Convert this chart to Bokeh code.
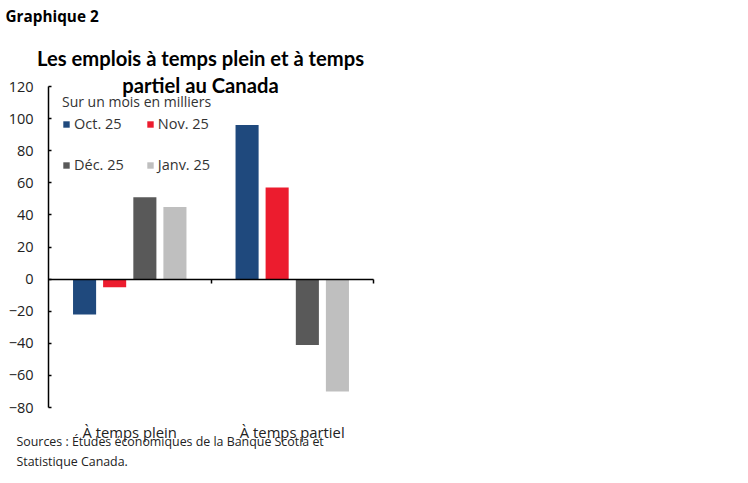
from bokeh.plotting import figure
from bokeh.models import (Range1d, FixedTicker, LinearAxis, Label, Legend, LegendItem,
                          ColumnDataSource)
from bokeh.transform import dodge
from bokeh.embed import file_html
from bokeh.resources import INLINE

categories = ["À temps plein", "À temps partiel"]
series_names = ["Oct. 25", "Nov. 25", "Déc. 25", "Janv. 25"]
oct25 = [-22, 96]
nov25 = [-5, 57]
dec25 = [51, -41]
janv25 = [45, -70]
colors = ["#1f497d", "#ec1c2e", "#595959", "#bfbfbf"]
y_ticks = [-80, -60, -40, -20, 0, 20, 40, 60, 80, 100, 120]

FONT = "Open Sans"
TFONT = "Lato"

# canvas / layout (pixels)
W, H = 740, 475
PX_LEFT, PX_RIGHT = 48, 373      # x of category span edges
PY_TOP, PY_BOT = 86, 407         # y of 120 and -80
YMIN, YMAX = y_ticks[0], y_ticks[-1]
NCAT = len(categories)

xs = (PX_RIGHT - PX_LEFT) / NCAT
ys = (PY_BOT - PY_TOP) / (YMAX - YMIN)
x0 = -PX_LEFT / xs
x1 = x0 + W / xs
y1 = YMAX + PY_TOP / ys
y0 = YMIN - (H - PY_BOT) / ys

cat_x = [i + 0.5 for i in range(NCAT)]
src = ColumnDataSource(dict(x=cat_x, oct=oct25, nov=nov25, dec=dec25, janv=janv25))

p = figure(width=W, height=H, output_backend="svg", toolbar_location=None,
           x_range=Range1d(x0, x1), y_range=Range1d(y0, y1),
           min_border_left=0, min_border_right=0, min_border_top=0,
           min_border_bottom=0, x_axis_location=None, y_axis_location=None)
p.outline_line_color = None
p.xgrid.visible = False
p.ygrid.visible = False

offsets = [-0.278, -0.093, 0.093, 0.278]
renderers = []
for key, off, col in zip(["oct", "nov", "dec", "janv"], offsets, colors):
    r = p.vbar(x=dodge("x", off), top=key, bottom=0, width=0.142, source=src,
               fill_color=col, line_color=None)
    renderers.append(r)

# y axis
yax = LinearAxis(ticker=FixedTicker(ticks=y_ticks), fixed_location=0, bounds=(YMIN, YMAX))
yax.axis_line_color = "black"
yax.axis_line_width = 1.5
yax.major_tick_in = 3
yax.major_tick_out = 0
yax.minor_tick_line_color = None
yax.major_tick_line_width = 1.5
yax.major_label_standoff = 15
yax.major_label_text_font = FONT
yax.major_label_text_font_size = "14.5px"
yax.major_label_text_color = "#222222"
p.add_layout(yax, "left")

# zero axis line with category boundary ticks
zax = LinearAxis(ticker=FixedTicker(ticks=list(range(1, NCAT + 1))), fixed_location=0,
                 bounds=(0, NCAT))
zax.axis_line_color = "black"
zax.axis_line_width = 1.5
zax.major_tick_in = 0
zax.major_tick_out = 4
zax.major_tick_line_width = 1.5
zax.minor_tick_line_color = None
zax.major_label_text_alpha = 0
zax.major_label_text_font_size = "1px"
p.add_layout(zax, "below")

# category labels
cax = LinearAxis(ticker=FixedTicker(ticks=cat_x), fixed_location=YMIN,
                 major_label_overrides={x: c for x, c in zip(cat_x, categories)})
cax.axis_line_color = None
cax.major_tick_line_color = None
cax.minor_tick_line_color = None
cax.major_label_standoff = 8
cax.major_label_text_font = FONT
cax.major_label_text_font_size = "14.8px"
cax.major_label_text_color = "#222222"
p.add_layout(cax, "below")

order = [0, 2, 1, 3]
legend = Legend(items=[LegendItem(label=series_names[i], renderers=[renderers[i]]) for i in order],
                ncols=2, location=(62, 301), title="Sur un mois en milliers")
legend.title_text_font = FONT
legend.title_text_font_size = "14px"
legend.title_text_font_style = "normal"
legend.title_text_color = "#333333"
legend.title_standoff = 3
legend.label_text_font = FONT
legend.label_text_font_size = "14.5px"
legend.label_text_color = "#333333"
legend.glyph_width = 8
legend.glyph_height = 8
legend.label_standoff = 4
legend.spacing = 22
legend.padding = 0
legend.margin = 0
legend.border_line_color = None
legend.background_fill_alpha = 0
p.add_layout(legend)

def lab(x, y, t, size, bold=False, align="left", font=FONT, color="#222222"):
    # x, y: pixel position measured from the top-left of the canvas
    p.add_layout(Label(x=x, y=H - y, x_units="screen", y_units="screen", text=t,
                       text_font=font, text_font_size=size,
                       text_font_style="bold" if bold else "normal",
                       text_align=align, text_baseline="middle", text_color=color))

lab(5, 15, "Graphique 2", "15.3px", bold=True, font=FONT, color="black")
lab(200, 57, "Les emplois à temps plein et à temps", "20.2px", bold=True, align="center",
    font=TFONT, color="black")
lab(200, 84, "partiel au Canada", "20.2px", bold=True, align="center", font=TFONT, color="black")
lab(16, 441, "Sources : Études économiques de la Banque Scotia et", "12.4px")
lab(16, 461, "Statistique Canada.", "12.4px")

open("out.html", "w").write(file_html(p, INLINE))
